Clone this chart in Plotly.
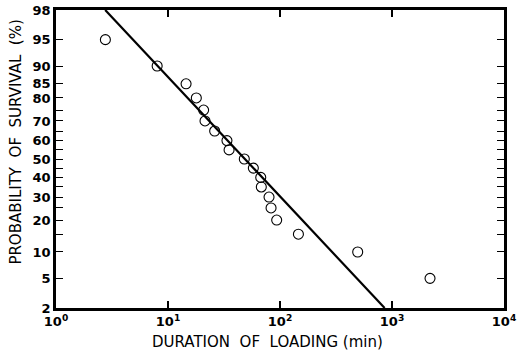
import plotly.graph_objects as go
from statistics import NormalDist

# Data
duration_min = [2.76, 8.0, 14.5, 17.9, 20.8, 21.4, 26.1, 33.6, 35.1, 48.0, 57.8,
                67.3, 68.1, 79.8, 83.2, 93.4, 146.0, 494.0, 2185.0]
survival_pct = [95, 90, 85, 80, 75, 70, 65, 60, 55, 50, 45,
                40, 35, 30, 25, 20, 15, 10, 5]

fit_duration = [2.75, 860.0]
fit_survival = [98, 2]

y_tick_values = [98, 95, 90, 85, 80, 70, 60, 50, 40, 30, 20, 10, 5, 2]
y_tick_labels = ["98", "95", "90", "85", "80", "70", "60", "50", "40", "30", "20", "10", "5", "2"]
y_minor_values = [75, 65, 55, 45, 35, 25, 15]
x_tick_values = [1, 10, 100, 1000, 10000]
x_tick_labels = ["10<sup>0</sup>", "10<sup>1</sup>", "10<sup>2</sup>", "10<sup>3</sup>", "10<sup>4</sup>"]

nd = NormalDist()
def probit(p):
    return nd.inv_cdf(p / 100.0)

fig = go.Figure()
fig.add_trace(go.Scatter(
    x=fit_duration, y=[probit(p) for p in fit_survival], mode="lines",
    line=dict(color="black", width=2.2), showlegend=False, hoverinfo="skip"))
fig.add_trace(go.Scatter(
    x=duration_min, y=[probit(p) for p in survival_pct], mode="markers",
    marker=dict(symbol="circle-open", size=10, color="black", line=dict(width=1.1)),
    showlegend=False, customdata=survival_pct,
    hovertemplate="%{x} min, %{customdata}%<extra></extra>"))

font_family = "DejaVu Sans, Arial, sans-serif"
fig.update_layout(
    width=523, height=350,
    margin=dict(l=56, r=19, t=10, b=42, autoexpand=False),
    paper_bgcolor="white", plot_bgcolor="white",
    font=dict(family=font_family, color="black", size=13),
    xaxis=dict(
        type="log", range=[0, 4],
        tickvals=x_tick_values, ticktext=x_tick_labels,
        ticks="inside", ticklen=7, tickwidth=1.5, tickcolor="black",
        showline=True, linecolor="black", linewidth=2.5, mirror="ticks",
        showgrid=False, zeroline=False, automargin=False,
        tickfont=dict(size=13, family=font_family, weight="bold"),
    ),
    yaxis=dict(
        range=[probit(2), probit(98)],
        tickvals=[probit(v) for v in y_tick_values], ticktext=y_tick_labels,
        ticks="inside", ticklen=7, tickwidth=1.2, tickcolor="black",
        minor=dict(tickmode="array", tickvals=[probit(v) for v in y_minor_values],
                   ticks="inside", ticklen=7, tickwidth=1.2, tickcolor="black",
                   showgrid=False),
        showline=True, linecolor="black", linewidth=2.5, mirror="ticks",
        showgrid=False, zeroline=False, automargin=False,
        tickfont=dict(size=13, family=font_family, weight="bold"),
    ),
    annotations=[
        dict(text="DURATION  OF  LOADING (min)", xref="paper", yref="paper",
             x=0.471, y=0, yshift=-34, xanchor="center", yanchor="middle",
             showarrow=False, font=dict(size=15, family=font_family)),
        dict(text="PROBABILITY  OF  SURVIVAL  (%)", xref="paper", yref="paper",
             x=0, y=0.555, xshift=-40, xanchor="center", yanchor="middle",
             textangle=-90, showarrow=False, font=dict(size=15, family=font_family)),
    ],
)

fig.write_html("out.html", post_script="document.body.style.margin='0';",
               config={"displayModeBar": False})
